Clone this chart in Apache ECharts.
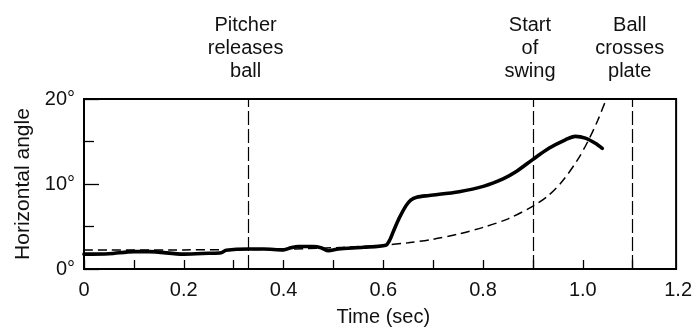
<!DOCTYPE html>
<html>
<head>
<meta charset="utf-8">
<script src="https://cdn.jsdelivr.net/npm/echarts@6/dist/echarts.min.js"></script>
<style>
  html, body { margin: 0; padding: 0; background: #fff; }
  #chart { width: 695px; height: 332px; }
</style>
</head>
<body>
<div id="chart"></div>
<script>
// Horizontal angle of the batter's head (degrees) against time (s)
const headTime  = [0, 0.05, 0.1, 0.13, 0.2, 0.25, 0.275, 0.285, 0.33, 0.36, 0.4, 0.415, 0.43, 0.46, 0.475, 0.49, 0.51, 0.56, 0.605,
                   0.612, 0.62, 0.632, 0.645, 0.655, 0.667, 0.692, 0.752, 0.802, 0.84, 0.865, 0.9, 0.932, 0.965, 0.985, 1.005, 1.025, 1.039];
const headAngle = [1.75, 1.8, 2.05, 2.05, 1.75, 1.85, 1.92, 2.2, 2.35, 2.35, 2.25, 2.5, 2.65, 2.65, 2.5, 2.15, 2.35, 2.55, 2.8,
                   3.3, 4.4, 6.0, 7.4, 8.1, 8.45, 8.65, 9.1, 9.75, 10.6, 11.4, 12.9, 14.2, 15.2, 15.6, 15.4, 14.8, 14.2];

// Angle needed to keep the ball in view (degrees) against time (s)
const ballTime  = [0, 0.2, 0.35, 0.45, 0.52, 0.6, 0.65, 0.7, 0.75, 0.8, 0.85, 0.9, 0.93, 0.96, 0.99, 1.01, 1.03, 1.047];
const ballAngle = [2.25, 2.25, 2.3, 2.4, 2.55, 2.8, 3.1, 3.5, 4.1, 4.9, 5.9, 7.4, 8.6, 10.4, 12.9, 15.0, 17.5, 20];

// Event markers
const eventTimes  = [1 / 3, 0.9, 1.1];
const eventLabels = ['Pitcher\nreleases\nball', 'Start\nof\nswing', 'Ball\ncrosses\nplate'];

// Axis ticks and labels
const xTickValues  = [0, 0.1, 0.2, 0.3, 0.4, 0.5, 0.6, 0.7, 0.8, 0.9, 1.0, 1.1];
const xLabelValues = [0, 0.2, 0.4, 0.6, 0.8, 1.0, 1.2];
const yLabelValues = [0, 10, 20];
const frameRight = 1.187;

const font = '"Liberation Sans", Arial, Helvetica, sans-serif';
const ink = '#111';
const textSize = 20;

const chart = echarts.init(document.getElementById('chart'));
chart.setOption({
  animation: false,
  backgroundColor: '#fff',
  grid: { left: 84, right: 10, top: 99, bottom: 60, containLabel: false },
  xAxis: {
    type: 'value',
    min: 0,
    max: 1.2,
    name: 'Time (sec)',
    nameLocation: 'middle',
    nameGap: 38,
    nameTextStyle: { fontFamily: font, fontSize: textSize, color: ink },
    axisLine: { show: false },
    splitLine: { show: false },
    axisTick: {
      show: true, inside: true, length: 9,
      customValues: xTickValues,
      lineStyle: { color: '#000', width: 1.3 }
    },
    axisLabel: {
      customValues: xLabelValues,
      margin: 11,
      fontFamily: font, fontSize: textSize, color: ink,
      formatter: function (v) {
        if (v === 0) return '0';
        if (Math.abs(v - 1.2) < 1e-9) return '{last|1.2}';
        return v.toFixed(1);
      },
      rich: {
        last: { fontFamily: font, fontSize: textSize, color: ink, padding: [0, 9, 0, 0] }
      }
    }
  },
  yAxis: {
    type: 'value',
    min: 0,
    max: 20,
    interval: 10,
    name: 'Horizontal angle',
    nameLocation: 'middle',
    nameGap: 48,
    nameTextStyle: { fontFamily: font, fontSize: 21, color: ink },
    axisLine: { show: false },
    splitLine: { show: false },
    axisTick: { show: true, inside: true, length: 15, lineStyle: { color: '#000', width: 1.3 } },
    minorTick: { show: true, splitNumber: 2, length: 10, lineStyle: { color: '#000', width: 1.3 } },
    minorSplitLine: { show: false },
    axisLabel: {
      customValues: yLabelValues,
      margin: 9,
      fontFamily: font, fontSize: textSize, color: ink,
      formatter: function (v) { return v + '°'; }
    }
  },
  series: [
    {
      name: 'ball',
      type: 'line',
      data: ballTime.map((t, i) => [t, ballAngle[i]]),
      showSymbol: false,
      smooth: 0.3,
      lineStyle: { color: '#000', width: 1.5, type: [9, 5] },
      silent: true,
      z: 2,
      markLine: {
        silent: true,
        symbol: 'none',
        lineStyle: { color: '#000', width: 1.2, type: [14, 4] },
        label: {
          show: true,
          position: 'end',
          distance: 16,
          formatter: function (p) { return p.name; },
          fontFamily: font, fontSize: textSize, lineHeight: 23, color: ink,
          align: 'center',
          padding: [0, 6, 0, 0]
        },
        data: eventTimes.map((t, i) => ({ xAxis: t, name: eventLabels[i] }))
      }
    },
    {
      name: 'head',
      type: 'line',
      data: headTime.map((t, i) => [t, headAngle[i]]),
      showSymbol: false,
      smooth: 0.3,
      lineStyle: { color: '#000', width: 3.6, cap: 'round', join: 'round' },
      silent: true,
      z: 3,
      markArea: {
        silent: true,
        itemStyle: { color: 'rgba(0,0,0,0)', borderColor: '#000', borderWidth: 2 },
        data: [[{ xAxis: 0, yAxis: 0 }, { xAxis: frameRight, yAxis: 20 }]]
      }
    }
  ]
});
</script>
</body>
</html>
